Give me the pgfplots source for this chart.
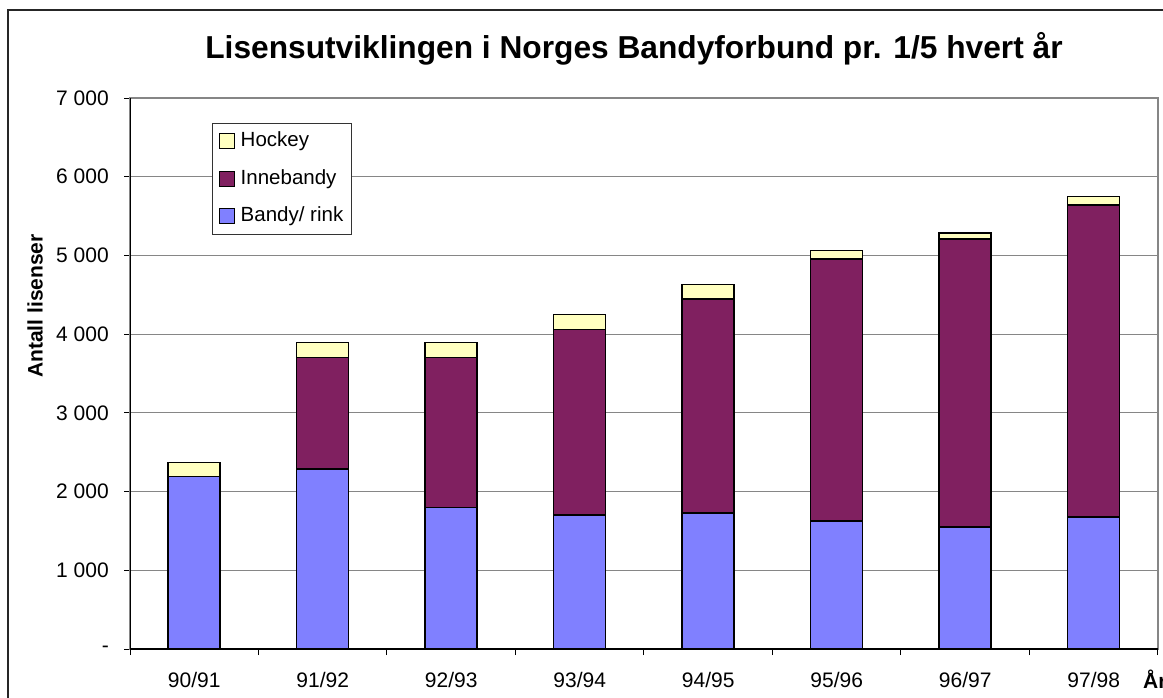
\documentclass[border=0pt]{standalone}
\usepackage{pgfplots}
\pgfplotsset{compat=1.18}
\usepackage{fontspec}
\setmainfont{Liberation Sans}
\definecolor{bandy}{RGB}{128,128,255}
\definecolor{inne}{RGB}{128,32,96}
\definecolor{hockey}{RGB}{255,255,192}
\begin{document}
\begin{tikzpicture}
\path[use as bounding box] (0pt,0pt) rectangle (1163pt,-697pt);
\draw[line width=1.5pt, black!85] (8pt,-10pt) rectangle (1220pt,-760pt);
\node[font=\bfseries\fontsize{31.7}{36}\selectfont, anchor=base] at (634pt,-58pt) {Lisensutviklingen i Norges Bandyforbund pr. 1/5 hvert år};
\node[font=\bfseries\fontsize{21}{24}\selectfont, rotate=90] at (35pt,-306pt) {Antall lisenser};
\node[font=\bfseries\fontsize{21}{24}\selectfont, anchor=base west, inner sep=0pt] at (1143pt,-688pt) {År};
\begin{axis}[
  at={(130pt,-649pt)}, anchor=south west,
  scale only axis, width=1028pt, height=551pt,
  ybar stacked, bar width=52pt,
  xmin=-0.5, xmax=7.5, ymin=0, ymax=7000,
  xtick={-0.5,0.5,1.5,2.5,3.5,4.5,5.5,6.5,7.5},
  xticklabels={},
  extra x ticks={0,1,2,3,4,5,6,7},
  extra x tick labels={90/91,91/92,92/93,93/94,94/95,95/96,96/97,97/98},
  extra x tick style={major tick length=0pt},
  ytick={0,1000,2000,3000,4000,5000,6000,7000},
  yticklabels={-,1 000,2 000,3 000,4 000,5 000,6 000,7 000},
  tick pos=left,
  tick align=outside,
  major tick length=6pt,
  tick style={black, line width=1pt},
  ymajorgrids,
  grid style={gray!95, line width=1.2pt},
  axis line style={gray!95, line width=1.2pt},
  ticklabel style={font=\fontsize{21}{24}\selectfont},
  xticklabel style={anchor=base, yshift=-38pt},
  yticklabel style={anchor=east, inner sep=0pt, xshift=-15pt},
  legend style={at={(axis description cs:0.0798,0.9546)}, anchor=north west,
    draw=black!80, line width=1pt, font=\fontsize{20.5}{24}\selectfont,
    inner sep=6pt, row sep=14pt, column sep=4pt,
    nodes={inner sep=2pt, text height=15pt, text depth=4.5pt}},
  legend cell align=left,
  legend image code/.code={\draw[#1, line width=1.2pt] (0pt,-7.5pt) rectangle (15pt,7.5pt);},
  reverse legend,
]
\addplot[fill=bandy, draw=black, line width=1.5pt] coordinates {(0,2190) (1,2290) (2,1800) (3,1705) (4,1730) (5,1625) (6,1550) (7,1675)};
\addlegendentry{Bandy/ rink}
\addplot[fill=inne, draw=black, line width=1.5pt] coordinates {(0,0) (1,1416) (2,1906) (3,2357) (4,2717) (5,3330) (6,3659) (7,3967)};
\addlegendentry{Innebandy}
\addplot[fill=hockey, draw=black, line width=1.5pt] coordinates {(0,177) (1,186) (2,186) (3,188) (4,182) (5,106) (6,77) (7,108)};
\addlegendentry{Hockey}
\draw[black, line width=1.4pt] (rel axis cs:0,1) -- (rel axis cs:0,0) -- (rel axis cs:1,0);
\end{axis}
\end{tikzpicture}
\end{document}
